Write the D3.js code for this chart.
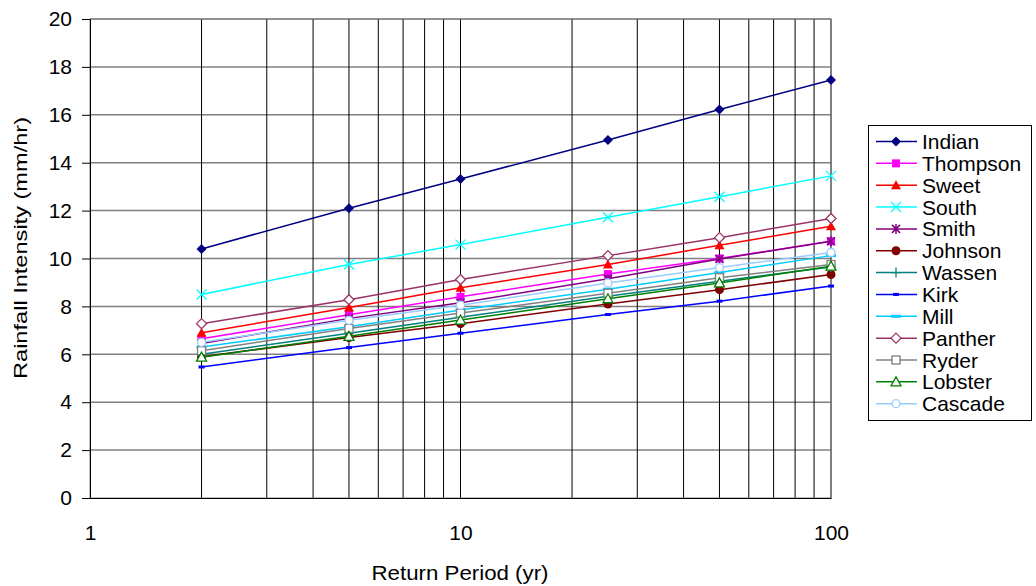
<!DOCTYPE html>
<html>
<head>
<meta charset="utf-8">
<script src="https://cdn.jsdelivr.net/npm/d3@7"></script>
<style>
  body { margin: 0; background: #fff; }
  svg text { font-family: "Liberation Sans", Arial, sans-serif; fill: #000; }
</style>
</head>
<body>
<div class="container"></div>
<script>
const WIDTH = 1036;
const HEIGHT = 586;
const LEFT = 90, TOP = 19, RIGHT = 831, BOTTOM = 498;

// return periods (yr)
var periods = [2, 5, 10, 25, 50, 100];
var yTicks = [0, 2, 4, 6, 8, 10, 12, 14, 16, 18, 20];
var xTicks = [1, 10, 100];

var names = ["Indian", "Thompson", "Sweet", "South", "Smith", "Johnson", "Wassen",
             "Kirk", "Mill", "Panther", "Ryder", "Lobster", "Cascade"];

var indian   = [10.4, 12.1, 13.32, 14.95, 16.22, 17.45];
var thompson = [6.65, 7.65, 8.4, 9.35, 10.0, 10.72];
var sweet    = [6.9, 7.95, 8.78, 9.75, 10.55, 11.35];
var south    = [8.5, 9.75, 10.58, 11.72, 12.58, 13.45];
var smith    = [6.45, 7.5, 8.15, 9.15, 9.98, 10.72];
var johnson  = [5.9, 6.7, 7.28, 8.1, 8.7, 9.33];
var wassen   = [6.0, 6.88, 7.55, 8.42, 9.05, 9.65];
var kirk     = [5.47, 6.28, 6.88, 7.66, 8.22, 8.85];
var mill     = [6.3, 7.15, 7.85, 8.72, 9.42, 10.12];
var panther  = [7.28, 8.28, 9.12, 10.12, 10.87, 11.67];
var ryder    = [6.15, 7.08, 7.72, 8.55, 9.2, 9.75];
var lobster  = [5.88, 6.75, 7.43, 8.32, 8.98, 9.68];
var cascade  = [6.5, 7.42, 8.05, 8.98, 9.62, 10.25];

var seriesValues = [indian, thompson, sweet, south, smith, johnson, wassen,
                    kirk, mill, panther, ryder, lobster, cascade];

var colors = ["#000080", "#ff00ff", "#ff0000", "#00ffff", "#800080", "#800000", "#008080",
              "#0000ff", "#00ccff", "#993366", "#808080", "#008000", "#99ccff"];
var markers = ["diamond", "square", "triangle", "x", "star", "circle", "plus",
               "dash", "longdash", "odiamond", "osquare", "otriangle", "ocircle"];

var translate = function(x, y){
  return "translate(" + x + "," + y + ")";
};

var drawMarker = function(g, type, color){
  switch(type){
    case "diamond":
      g.append("path").attr("d", "M0,-5L5,0L0,5L-5,0Z").attr("fill", color); break;
    case "square":
      g.append("rect").attr("x", -4).attr("y", -4).attr("width", 8).attr("height", 8).attr("fill", color); break;
    case "triangle":
      g.append("path").attr("d", "M0,-5L5,4L-5,4Z").attr("fill", color); break;
    case "x":
      g.append("path").attr("d", "M-5,-5L5,5M-5,5L5,-5").attr("stroke", color).attr("stroke-width", 1.3); break;
    case "star":
      g.append("path").attr("d", "M-4,-4L4,4M-4,4L4,-4M0,-5L0,5").attr("stroke", color).attr("stroke-width", 1.5); break;
    case "circle":
      g.append("circle").attr("r", 4.5).attr("fill", color); break;
    case "plus":
      g.append("path").attr("d", "M-5,0L5,0M0,-5L0,5").attr("stroke", color).attr("stroke-width", 1.3); break;
    case "dash":
      g.append("rect").attr("x", -3).attr("y", -1.5).attr("width", 6).attr("height", 3).attr("fill", color); break;
    case "longdash":
      g.append("rect").attr("x", -5).attr("y", -1.5).attr("width", 10).attr("height", 3).attr("fill", color); break;
    case "odiamond":
      g.append("path").attr("d", "M0,-5L5,0L0,5L-5,0Z").attr("fill", "#fff").attr("stroke", color).attr("stroke-width", 1.3); break;
    case "osquare":
      g.append("rect").attr("x", -4).attr("y", -4).attr("width", 8).attr("height", 8).attr("fill", "#fff").attr("stroke", color).attr("stroke-width", 1.3); break;
    case "otriangle":
      g.append("path").attr("d", "M0,-5L5,4L-5,4Z").attr("fill", "#fff").attr("stroke", color).attr("stroke-width", 1.3); break;
    case "ocircle":
      g.append("circle").attr("r", 4).attr("fill", "#fff").attr("stroke", color).attr("stroke-width", 1.3); break;
  }
};

var svg = d3.select(".container").append("svg")
  .attr("width", WIDTH)
  .attr("height", HEIGHT);

var xScale = d3.scaleLog().domain([1, 100]).range([LEFT, RIGHT]);
var yScale = d3.scaleLinear().domain([0, 20]).range([BOTTOM, TOP]);

// gridlines
var minorX = [];
for (var d = 1; d <= 100; d *= 10)
  for (var k = 1; k <= 9; k++)
    if (d * k > 1 && d * k <= 100) minorX.push(d * k);

svg.append("g").selectAll("line").data(yTicks.filter(function(t){ return t > 0; }))
  .enter().append("line")
  .attr("x1", LEFT).attr("x2", RIGHT)
  .attr("y1", function(t){ return yScale(t); })
  .attr("y2", function(t){ return yScale(t); })
  .attr("stroke", "#808080").attr("stroke-width", 1.5);

svg.append("g").selectAll("line").data(minorX)
  .enter().append("line")
  .attr("x1", function(t){ return xScale(t); })
  .attr("x2", function(t){ return xScale(t); })
  .attr("y1", TOP).attr("y2", BOTTOM)
  .attr("stroke", "#000").attr("stroke-width", 1);

svg.append("rect")
  .attr("x", LEFT).attr("y", TOP)
  .attr("width", RIGHT - LEFT).attr("height", BOTTOM - TOP)
  .attr("fill", "none").attr("stroke", "#808080").attr("stroke-width", 1);

// axes
var yAxis = d3.axisLeft(yScale).tickValues(yTicks).tickSize(8).tickPadding(10);
var gy = svg.append("g").attr("transform", translate(LEFT, 0)).call(yAxis);
gy.select(".domain").attr("stroke", "#000");
gy.selectAll("text").style("font-size", "21px");

var xAxis = d3.axisBottom(xScale).tickValues(xTicks).tickFormat(d3.format("d")).tickSize(0).tickPadding(27);
var gx = svg.append("g").attr("transform", translate(0, BOTTOM)).call(xAxis);
gx.select(".domain").attr("stroke", "#000");
gx.selectAll("text").style("font-size", "21px");

svg.append("text")
  .attr("transform", "translate(27,248) rotate(-90)")
  .attr("text-anchor", "middle")
  .style("font-size", "19px")
  .attr("textLength", 262).attr("lengthAdjust", "spacingAndGlyphs")
  .text("Rainfall Intensity (mm/hr)");

svg.append("text")
  .attr("x", 460).attr("y", 580)
  .attr("text-anchor", "middle")
  .style("font-size", "21px")
  .attr("textLength", 177).attr("lengthAdjust", "spacingAndGlyphs")
  .text("Return Period (yr)");

// series
var line = d3.line()
  .x(function(d){ return xScale(d[0]); })
  .y(function(d){ return yScale(d[1]); });

seriesValues.forEach(function(vals, i){
  var pts = periods.map(function(p, j){ return [p, vals[j]]; });
  var g = svg.append("g");
  g.append("path").datum(pts).attr("d", line)
    .attr("fill", "none").attr("stroke", colors[i]).attr("stroke-width", 1.5);
  pts.forEach(function(p){
    drawMarker(g.append("g").attr("transform", translate(xScale(p[0]), yScale(p[1]))), markers[i], colors[i]);
  });
});

// legend
var legend = svg.append("g");
legend.append("rect")
  .attr("x", 868.5).attr("y", 125.5).attr("width", 163).attr("height", 295)
  .attr("fill", "#fff").attr("stroke", "#000").attr("stroke-width", 1);

names.forEach(function(name, i){
  var y = 141.5 + i * 21.85;
  var item = legend.append("g");
  item.append("line").attr("x1", 876).attr("x2", 917).attr("y1", y).attr("y2", y)
    .attr("stroke", colors[i]).attr("stroke-width", 1.5);
  drawMarker(item.append("g").attr("transform", translate(896, y)), markers[i], colors[i]);
  item.append("text").attr("x", 922).attr("y", y + 7.5)
    .style("font-size", "21px").text(name);
});
</script>
</body>
</html>
